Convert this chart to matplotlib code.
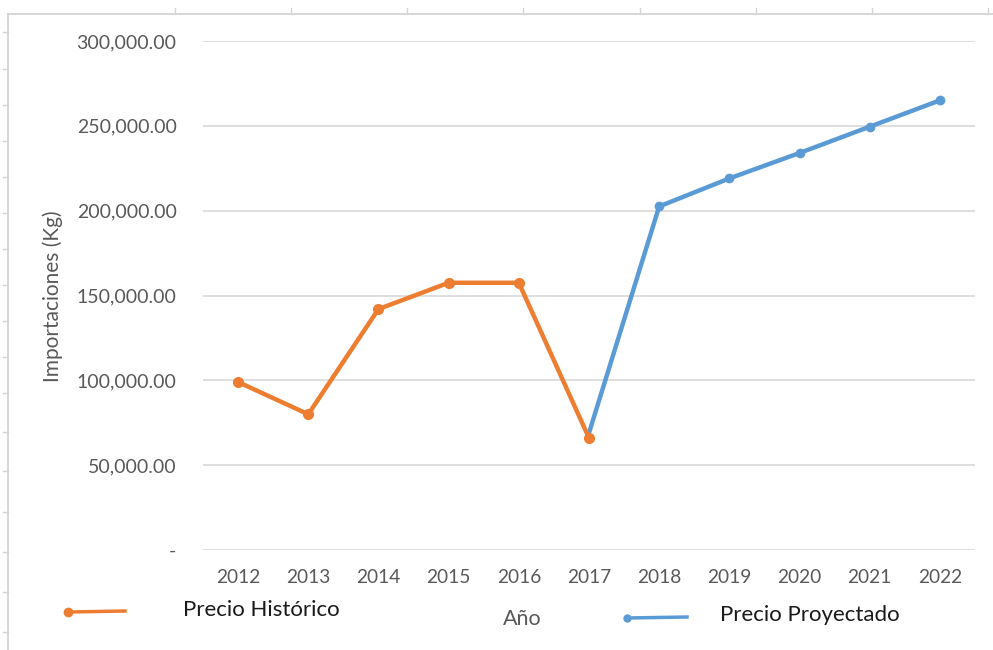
import numpy as np
import matplotlib
matplotlib.use("Agg")
import matplotlib.pyplot as plt
from matplotlib.lines import Line2D
from matplotlib.ticker import FuncFormatter

plt.rcParams['font.family'] = ['Lato', 'DejaVu Sans']

# datos
anios = [2012, 2013, 2014, 2015, 2016, 2017, 2018, 2019, 2020, 2021, 2022]
historico = [99000, 80000, 142000, 157500, 157500, 66000]
proyectado = [69000, 202500, 219000, 234000, 249500, 265000]
y_ticks = [0, 50000, 100000, 150000, 200000, 250000, 300000]

naranja = "#ed7d31"
azul = "#5b9bd5"
gris = "#595959"

fig = plt.figure(figsize=(9.93, 6.5), dpi=100)
ax = fig.add_axes([203/993, 1-550/650, 772/993, (550-41)/650])

x = np.arange(len(anios))
x_hist = x[:len(historico)]
x_proy = x[len(historico)-1:]

ax.plot(x_proy, proyectado, color=azul, lw=3.2, marker="o", ms=6,
        markevery=list(range(1, len(proyectado))), solid_capstyle="round", zorder=3)
ax.plot(x_hist, historico, color=naranja, lw=3.2, marker="o", ms=7,
        solid_capstyle="round", zorder=4)

ax.set_xlim(-0.5, len(anios)-0.5)
ax.set_ylim(0, 300000)
ax.set_yticks(y_ticks)
ax.yaxis.set_major_formatter(FuncFormatter(lambda v, p: "-" if v == 0 else f"{v:,.2f}"))
ax.set_xticks(x)
ax.set_xticklabels([str(a) for a in anios])
ax.grid(axis="y", color="#d9d9d9", lw=1.2)
ax.set_axisbelow(True)
for s in ax.spines.values():
    s.set_visible(False)
ax.tick_params(axis="y", length=0, pad=19, labelsize=14, labelcolor=gris)
ax.tick_params(axis="x", length=0, pad=14, labelsize=13.8, labelcolor=gris)

fig.text(53/993, 1-296/650, "Importaciones (Kg)", rotation=90, ha="center", va="center",
         fontsize=15, color=gris)
fig.text(522/993, 1-619/650, "Año", ha="center", va="center", fontsize=15.5, color=gris)

# leyenda manual
fig.add_artist(Line2D([68/993, 125/993], [1-612/650, 1-611/650], color=naranja, lw=2.5,
                      marker="o", ms=6, markevery=[0]))
fig.text(183/993, 1-610/650, "Precio Histórico", ha="left", va="center", fontsize=16, color="#1a1a1a")
fig.add_artist(Line2D([627/993, 687/993], [1-618/650, 1-617/650], color=azul, lw=2.5,
                      marker="o", ms=5, markevery=[0]))
fig.text(720/993, 1-615/650, "Precio Proyectado", ha="left", va="center", fontsize=16, color="#1a1a1a")

# borde de la hoja (celdas)
borde = "#d4d4d4"
fig.add_artist(Line2D([8/993, 1], [1-14/650, 1-14/650], color=borde, lw=1.3))
fig.add_artist(Line2D([8/993, 8/993], [0, 1-14/650], color=borde, lw=1.3))
for cx in [175, 291, 407, 523, 640, 756, 872, 988]:
    fig.add_artist(Line2D([cx/993, cx/993], [1-14/650, 1-8/650], color=borde, lw=1.0))
for ry in [32, 69, 105, 141, 177, 213, 249, 285, 321, 357, 393, 432, 471, 512, 552, 592, 632]:
    fig.add_artist(Line2D([3/993, 8/993], [1-ry/650, 1-ry/650], color=borde, lw=1.0))

fig.savefig("out.png", dpi=100)
